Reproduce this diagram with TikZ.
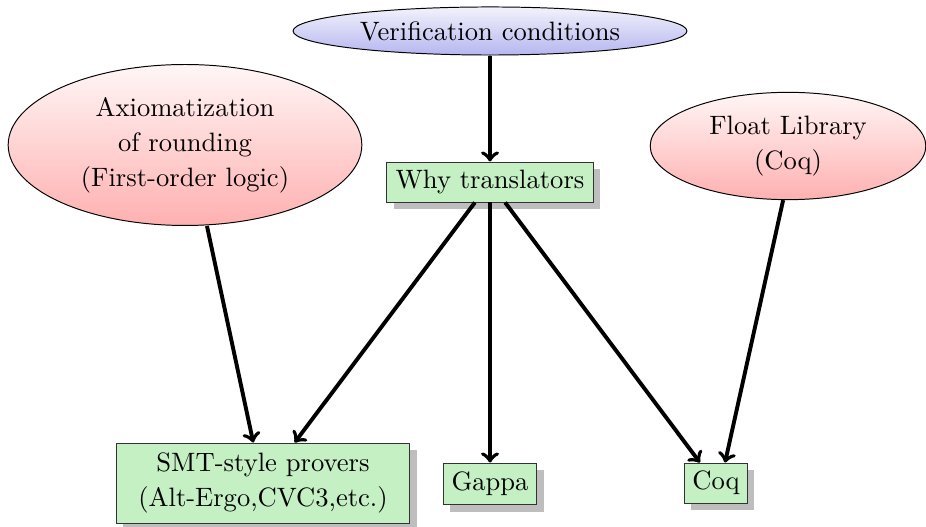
\documentclass[tikz,border=0pt]{standalone}
\usetikzlibrary{shapes.geometric,shadows}
\definecolor{vctop}{RGB}{242,242,252}
\definecolor{vcbot}{RGB}{182,182,240}
\definecolor{redtop}{RGB}{255,246,246}
\definecolor{redbot}{RGB}{255,176,176}
\definecolor{provfill}{RGB}{196,240,196}
\definecolor{shadowgray}{RGB}{190,190,190}
\begin{document}
\begin{tikzpicture}[x=0.41pt,y=-0.41pt,
  every node/.style={font=\fontsize{10.9}{14.4}\selectfont},
  ell/.style={ellipse,draw=black,thin,align=center,inner sep=0pt},
  blueell/.style={ell,top color=vctop,bottom color=vcbot},
  redell/.style={ell,top color=redtop,bottom color=redbot},
  prover/.style={rectangle,draw=black!80,thin,fill=provfill,align=center,inner sep=0pt,
    drop shadow={shadow xshift=2.8pt,shadow yshift=-2.8pt,fill=shadowgray,opacity=1}},
  arr/.style={->,line width=1.6pt,black}]
\useasboundingbox (0,0) rectangle (926,527);
\node[blueell,minimum width=161.5pt,minimum height=19.7pt] (vc) at (490,31) {Verification conditions};
\node[redell,minimum width=145pt,minimum height=66pt] (ax) at (185,145) {Axiomatization\\of rounding\\(First-order logic)};
\node[redell,minimum width=113pt,minimum height=44pt] (fl) at (788,146) {Float Library\\(Coq)};
\node[prover,minimum width=84.5pt,minimum height=16.4pt] (why) at (490,182) {Why translators};
\node[prover,minimum width=120.5pt,minimum height=32.8pt] (smt) at (263,483) {SMT-style provers\\(Alt-Ergo,CVC3,etc.)};
\node[prover,minimum width=38.5pt,minimum height=17.2pt] (gappa) at (490,484) {Gappa};
\node[prover,minimum width=25.8pt,minimum height=16.4pt] (coq) at (716,483) {Coq};
\draw[arr] (vc.south) -- (why.north);
\draw[arr] ([xshift=9pt]ax.south) -- ([xshift=-4pt]smt.north);
\draw[arr] ([xshift=-6.2pt]why.south) -- ([xshift=13pt]smt.north);
\draw[arr] (why.south) -- (gappa.north);
\draw[arr] ([xshift=6.2pt]why.south) -- ([xshift=-6.6pt]coq.north);
\draw[arr] ([xshift=-2pt]fl.south) -- ([xshift=3.7pt]coq.north);
\end{tikzpicture}
\end{document}
